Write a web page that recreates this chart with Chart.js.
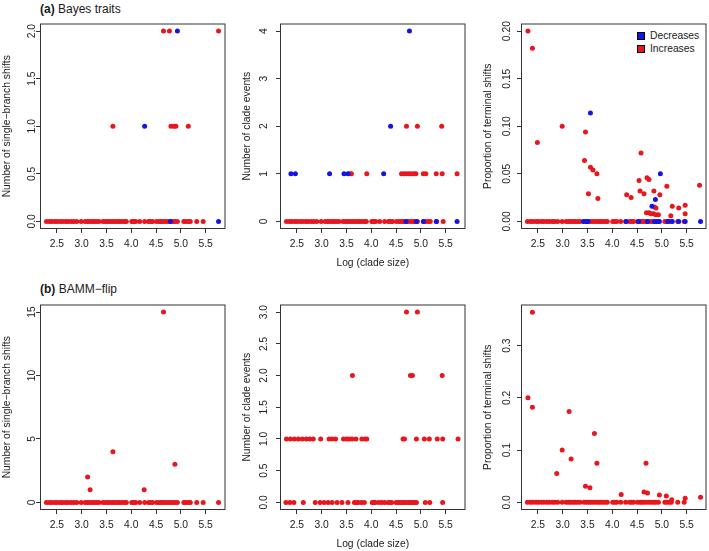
<!DOCTYPE html>
<html>
<head>
<meta charset="utf-8">
<script src="https://cdn.jsdelivr.net/npm/chart.js@4/dist/chart.umd.min.js"></script>
<style>
  body { margin: 0; background: #fff; }
  #fig { position: relative; width: 709px; height: 551px; overflow: hidden; font-family: "Liberation Sans", Arial, sans-serif; color: #1a1a1a; }
  #fig canvas { position: absolute; }
  .ptitle { position: absolute; left: 40px; font-size: 12px; line-height: 14px; white-space: nowrap; }
  .legend { position: absolute; left: 637px; top: 30px; font-size: 10.3px; }
  .legend div { position: relative; height: 12.6px; width: 70px; }
  .legend span { position: absolute; left: 0; top: 2.3px; width: 8px; height: 8px; box-sizing: border-box; border: 1px solid #000; }
  .legend b { position: absolute; left: 13px; top: 0; line-height: 12.6px; font-weight: normal; white-space: nowrap; }
</style>
</head>
<body>
<div id="fig">
  <div class="ptitle" style="top:1.5px"><b>(a)</b> Bayes traits</div>
  <div class="ptitle" style="top:281.5px"><b>(b)</b> BAMM−flip</div>
  <div class="legend" id="legend"></div>
</div>
<script>
// x axis: log (clade size)
const xLim = [2.16, 5.90];
const xTicks = [2.5, 3.0, 3.5, 4.0, 4.5, 5.0, 5.5];

// clades scoring zero (shared zero row of most panels)
const zeroSizes = [2.29, 2.35, 2.40, 2.46, 2.51, 2.57, 2.62, 2.68, 2.73, 2.79, 2.84, 2.90, 2.99, 3.07, 3.12, 3.16, 3.21, 3.25, 3.30, 3.35,
    3.43, 3.48, 3.53, 3.57, 3.62, 3.67, 3.72, 3.76, 3.81, 3.86, 3.90, 4.01, 4.05, 4.09, 4.17, 4.27, 4.35, 4.39, 4.43, 4.51,
    4.56, 4.60, 4.64, 4.69, 4.74, 4.79, 4.84, 4.88, 4.93, 5.06, 5.10, 5.15, 5.19, 5.32, 5.45];

// (a) Bayes traits - single-branch shifts
const a1IncX = [3.63, 4.80, 4.86, 4.90, 5.15, 4.65, 4.77, 5.76];
const a1IncY = [1, 1, 1, 1, 1, 2, 2, 2];
const a1DecX = [4.27, 4.93, 4.79, 5.76];
const a1DecY = [1, 2, 0, 0];
const a1Ticks = [0, 0.5, 1, 1.5, 2];

// (a) Bayes traits - clade events
const a2IncX = [3.57, 3.60, 3.91, 4.61, 4.66, 4.71, 4.76, 4.81, 4.86, 4.90, 5.05, 5.10, 5.31, 5.43, 5.73, 4.71, 4.93, 5.42];
const a2IncY = [1, 1, 1, 1, 1, 1, 1, 1, 1, 1, 1, 1, 1, 1, 1, 2, 2, 2];
const a2DecX = [2.38, 2.47, 3.16, 3.45, 3.53, 4.25, 4.39, 4.77, 4.70, 4.91, 5.05, 5.31, 5.73];
const a2DecY = [1, 1, 1, 1, 1, 1, 2, 4, 0, 0, 0, 0, 0];
const a2Ticks = [0, 1, 2, 3, 4];

// (a) Bayes traits - proportion of terminal shifts
const a3IncX = [2.30, 2.39, 2.49, 2.99, 3.44, 3.46, 3.52, 3.56, 3.61, 3.69, 3.71, 4.29, 4.38, 4.54, 4.56, 4.58, 4.64, 4.70,
    4.74, 4.84, 4.96, 5.10, 4.69, 4.74, 4.78, 4.83, 4.88, 4.93, 4.85, 4.88, 5.21, 5.18, 5.34, 5.47, 5.47, 5.76];
const a3IncY = [0.200, 0.182, 0.083, 0.100, 0.064, 0.094, 0.029, 0.057, 0.054, 0.050, 0.024, 0.028, 0.025, 0.043, 0.032, 0.072, 0.029, 0.046,
    0.044, 0.032, 0.028, 0.037, 0.009, 0.009, 0.008, 0.008, 0.007, 0.007, 0.015, 0.014, 0.016, 0.006, 0.014, 0.017, 0.008, 0.038];
const a3DecX = [3.56, 4.97, 4.87, 4.80, 3.42, 3.47, 3.51, 4.28, 4.53, 4.71, 4.85, 4.90, 4.95, 5.12, 5.21, 5.34, 5.47, 5.78];
const a3DecY = [0.114, 0.050, 0.023, 0.016, 0, 0, 0, 0, 0, 0, 0, 0, 0, 0, 0, 0, 0, 0];
const a3Ticks = [0, 0.05, 0.10, 0.15, 0.20];

// (b) BAMM-flip - single-branch shifts
const b1IncX = [4.65, 3.12, 3.17, 3.63, 4.26, 4.88, 5.76];
const b1IncY = [15, 2, 1, 4, 1, 3, 0];
const b1Ticks = [0, 5, 10, 15];

// (b) BAMM-flip - clade events (own zero row)
const b2IncX = [2.28, 2.36, 2.44, 2.63, 2.87, 2.97, 3.05, 3.13, 3.21, 3.31, 3.41, 3.53, 3.66, 3.70, 3.74, 3.80, 3.86, 4.02, 4.05, 4.08,
    4.15, 4.21, 4.27, 4.34, 4.38, 4.41, 4.50, 4.54, 4.58, 4.62, 4.66, 4.70, 4.75, 4.79, 4.83, 4.87, 4.91, 5.09, 5.18, 5.44,
    2.29, 2.37, 2.45, 2.53, 2.61, 2.69, 2.76, 2.83, 2.98, 3.15, 3.21, 3.28, 3.44, 3.50, 3.55, 3.61, 3.69, 3.81, 3.87, 3.91,
    4.64, 4.67, 4.91, 5.07, 5.17, 5.33, 5.44, 5.75,
    3.62, 4.79, 4.83, 5.43, 4.71, 4.93];
const b2IncY = [0, 0, 0, 0, 0, 0, 0, 0, 0, 0, 0, 0, 0, 0, 0, 0, 0, 0, 0, 0,
    0, 0, 0, 0, 0, 0, 0, 0, 0, 0, 0, 0, 0, 0, 0, 0, 0, 0, 0, 0,
    1, 1, 1, 1, 1, 1, 1, 1, 1, 1, 1, 1, 1, 1, 1, 1, 1, 1, 1, 1,
    1, 1, 1, 1, 1, 1, 1, 1,
    2, 2, 2, 2, 3, 3];
const b2Ticks = [0, 0.5, 1, 1.5, 2, 2.5, 3];

// (b) BAMM-flip - proportion of terminal shifts
const b3IncX = [2.39, 2.30, 2.39, 3.13, 2.99, 3.17, 2.88, 3.64, 3.69, 3.46, 3.55, 4.18, 4.64, 4.71, 4.68, 4.95, 5.09, 5.20, 5.47, 5.78];
const b3IncY = [0.364, 0.200, 0.182, 0.174, 0.100, 0.083, 0.055, 0.132, 0.075, 0.031, 0.028, 0.015, 0.020, 0.018, 0.075, 0.014, 0.012, 0.005, 0.008, 0.010];
const b3Ticks = [0, 0.1, 0.2, 0.3];

const seriesNames = ["Decreases", "Increases"];
const seriesColors = ["#1414e6", "#e8161d"];

const FONT_FAMILY = "'Liberation Sans', Arial, sans-serif";
const FONT_SIZE = 10.3;
const TEXT_COL = "#1a1a1a";
const AXIS_COL = "#333";
const BOX_W = 187, BOX_H = 206;

// box round the plot region, like R's box()
const boxPlugin = {
    id: "box",
    afterDraw(chart) {
        const {ctx, chartArea: a} = chart;
        ctx.save();
        ctx.strokeStyle = AXIS_COL;
        ctx.lineWidth = 1;
        ctx.strokeRect(a.left + 0.5, a.top + 0.5, a.right - a.left - 1, a.bottom - a.top - 1);
        ctx.restore();
    }
};

const measure = document.createElement("canvas").getContext("2d");
measure.font = FONT_SIZE + "px " + FONT_FAMILY;

function toPoints(xs, ys) {
    return xs.map((x, i) => ({x: x, y: ys[i]}));
}

function drawPanel(p) {
    const canvas = document.createElement("canvas");
    canvas.width = BOX_W + 41;
    canvas.height = BOX_H + 43;
    canvas.style.left = (p.left - 40) + "px";
    canvas.style.top = (p.top - 2) + "px";
    document.getElementById("fig").appendChild(canvas);

    const font = {family: FONT_FAMILY, size: FONT_SIZE};
    const datasets = [];
    if (p.decX) {
        datasets.push({label: seriesNames[0], data: toPoints(p.decX, p.decY), backgroundColor: seriesColors[0]});
    }
    let inc = toPoints(p.incX, p.incY);
    if (p.zeroRow) inc = zeroSizes.map(x => ({x: x, y: 0})).concat(inc);
    datasets.push({label: seriesNames[1], data: inc, backgroundColor: seriesColors[1]});

    const widest = Math.max(...p.yTicks.map(v => measure.measureText(v.toFixed(p.digits)).width));

    new Chart(canvas, {
        type: "scatter",
        data: {datasets: datasets},
        options: {
            responsive: false,
            animation: false,
            devicePixelRatio: 1,
            layout: {padding: {top: 2, right: 1, left: 0, bottom: 0}},
            plugins: {legend: {display: false}, tooltip: {enabled: false}},
            elements: {point: {radius: 2.5, hoverRadius: 2.5, borderWidth: 0}},
            scales: {
                x: {
                    type: "linear", bounds: "data", min: xLim[0], max: xLim[1],
                    afterBuildTicks: s => { s.ticks = xTicks.map(v => ({value: v})); },
                    afterFit: s => { s.height = 41; s.paddingLeft = 0; s.paddingRight = 0; },
                    grid: {drawOnChartArea: false, tickLength: 4, color: AXIS_COL},
                    border: {display: false},
                    ticks: {font: font, color: TEXT_COL, padding: 5, maxRotation: 0, autoSkip: false,
                        callback: v => v.toFixed(1)},
                    title: {display: p.xTitle, text: "Log (clade size)", font: font, color: TEXT_COL,
                        padding: {top: 0, bottom: 0.5}}
                },
                y: {
                    type: "linear", bounds: "data", min: p.yLim[0], max: p.yLim[1],
                    afterBuildTicks: s => { s.ticks = p.yTicks.map(v => ({value: v})); },
                    afterFit: s => { s.width = 40; s.paddingTop = 0; s.paddingBottom = 0; },
                    grid: {drawOnChartArea: false, tickLength: 4, color: AXIS_COL},
                    border: {display: false},
                    ticks: {font: font, color: TEXT_COL, minRotation: 90, maxRotation: 90, crossAlign: "center",
                        autoSkip: false, padding: p.gap - 4 - widest / 2,
                        callback: v => v.toFixed(p.digits)},
                    title: {display: true, text: p.yTitle, font: font, color: TEXT_COL, padding: {top: 1, bottom: 0}}
                }
            }
        },
        plugins: [boxPlugin]
    });
}

const titleShifts = "Number of single−branch shifts";
const titleEvents = "Number of clade events";
const titleProp = "Proportion of terminal shifts";

drawPanel({left: 40, top: 23, incX: a1IncX, incY: a1IncY, decX: a1DecX, decY: a1DecY, zeroRow: true,
    yTicks: a1Ticks, digits: 1, yLim: [-0.08, 2.08], yTitle: titleShifts, gap: 8, xTitle: false});
drawPanel({left: 280, top: 23, incX: a2IncX, incY: a2IncY, decX: a2DecX, decY: a2DecY, zeroRow: true,
    yTicks: a2Ticks, digits: 0, yLim: [-0.16, 4.16], yTitle: titleEvents, gap: 15.5, xTitle: true});
drawPanel({left: 521, top: 23, incX: a3IncX, incY: a3IncY, decX: a3DecX, decY: a3DecY, zeroRow: true,
    yTicks: a3Ticks, digits: 2, yLim: [-0.008, 0.208], yTitle: titleProp, gap: 14, xTitle: false});
drawPanel({left: 40, top: 304, incX: b1IncX, incY: b1IncY, zeroRow: true,
    yTicks: b1Ticks, digits: 0, yLim: [-0.6, 15.6], yTitle: titleShifts, gap: 8, xTitle: false});
drawPanel({left: 280, top: 304, incX: b2IncX, incY: b2IncY, zeroRow: false,
    yTicks: b2Ticks, digits: 1, yLim: [-0.12, 3.12], yTitle: titleEvents, gap: 15.5, xTitle: true});
drawPanel({left: 521, top: 304, incX: b3IncX, incY: b3IncY, zeroRow: true,
    yTicks: b3Ticks, digits: 1, yLim: [-0.0146, 0.3786], yTitle: titleProp, gap: 14, xTitle: false});

// legend of panel (a) right
const legend = document.getElementById("legend");
seriesNames.forEach((name, i) => {
    const row = document.createElement("div");
    row.innerHTML = '<span style="background:' + seriesColors[i] + '"></span><b>' + name + '</b>';
    legend.appendChild(row);
});
</script>
</body>
</html>
